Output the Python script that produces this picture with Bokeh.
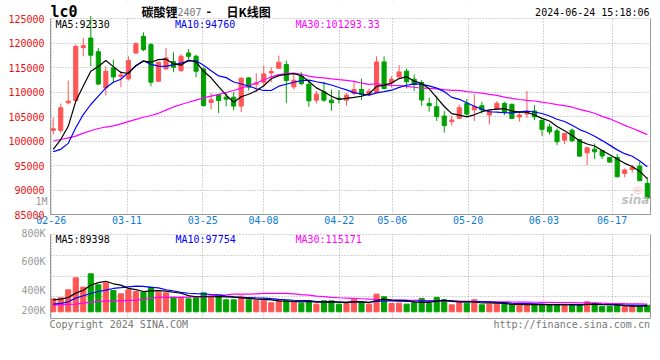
from bokeh.plotting import figure
from bokeh.models import (ColumnDataSource, FixedTicker, Label, Range1d, LinearAxis,
                          BoxAnnotation)
from bokeh.layouts import column
from bokeh.embed import file_html
from bokeh.resources import INLINE

# ---------------- data ----------------
opens = [102169, 102169, 107796, 108270, 119051, 121017, 118224, 110847, 114915, 113220,
         112678, 117966, 121356, 119661, 112203, 114712, 116203, 114373, 117966, 117288,
         114712, 107864, 109423, 108949, 108949, 107118, 112881, 111593, 112000, 113898,
         114847, 115593, 111050, 113250, 111593, 108338, 110034, 108338, 108745, 108338,
         109694, 110508, 109694, 109898, 116135, 111864, 113084, 114254, 112627, 111949,
         107678, 107000, 105101, 103949, 104627, 107678, 106350, 107203, 105305, 106525,
         107678, 107474, 104898, 105500, 106135, 104237, 102881, 102067, 100169, 102203,
         100305, 97593, 98338, 97999, 96644, 96644, 93389, 94203, 94880, 91355]
highs = [104745, 107660, 112339, 119661, 121017, 125500, 118980, 115254, 116610, 114237,
         117288, 120136, 122170, 120000, 116135, 118983, 118102, 117763, 118780, 117627,
         115051, 109762, 109627, 109966, 109966, 113017, 113017, 113830, 115390, 115051,
         117424, 116407, 113762, 114034, 112406, 110237, 112067, 110508, 110373, 109830,
         112271, 112746, 110712, 117288, 117288, 113220, 115458, 114797, 113576, 112424,
         108830, 109237, 106118, 105169, 107474, 108559, 109550, 108017, 106322, 108152,
         108017, 107678, 105983, 110200, 107288, 104373, 103559, 102542, 101661, 102542,
         100373, 98678, 99491, 98135, 96779, 97322, 94406, 95084, 95762, 92576]
lows = [101355, 101694, 107457, 108000, 117288, 115254, 111428, 109288, 111864, 110983,
        112339, 117763, 118305, 111186, 112067, 114576, 114034, 114034, 116746, 113017,
        107000, 106440, 105694, 107050, 106237, 105898, 110305, 109966, 110983, 112000,
        114712, 107728, 110508, 111389, 106982, 107660, 108000, 106169, 107660, 107186,
        109355, 108338, 109152, 109694, 110508, 110915, 112881, 110729, 110186, 107203,
        105983, 104084, 101711, 103135, 104491, 104966, 104084, 105644, 103406, 106322,
        105305, 104500, 103949, 104700, 104237, 101050, 101322, 99152, 99356, 99830,
        96779, 95084, 96304, 96304, 95559, 92576, 92576, 93525, 91898, 87627]
closes = [102508, 106779, 108135, 119322, 119458, 117491, 111632, 114237, 113084, 113491,
          116407, 119864, 118644, 112000, 116068, 116949, 115051, 117288, 117288, 114237,
          107254, 108406, 108270, 108542, 107118, 112813, 110983, 111796, 113695, 114170,
          116068, 112339, 112406, 111700, 108203, 109559, 108338, 107796, 108542, 109355,
          110508, 109491, 110169, 116135, 110712, 112610, 114102, 112085, 111542, 108356,
          107203, 104966, 103135, 104288, 106796, 105500, 107000, 106322, 106118, 107678,
          105847, 104600, 105305, 105900, 104915, 102378, 101864, 99830, 101525, 100034,
          96915, 98610, 97796, 96932, 95694, 92700, 94100, 94600, 91900, 88350]
volumes = [195000, 210000, 330000, 510000, 370000, 570000, 405000, 435000, 320000, 270000,
           330000, 305000, 295000, 370000, 295000, 285000, 220000, 220000, 195000, 210000,
           285000, 220000, 230000, 180000, 180000, 235000, 180000, 170000, 170000, 135000,
           165000, 165000, 150000, 130000, 165000, 115000, 165000, 165000, 115000, 125000,
           190000, 150000, 115000, 265000, 225000, 125000, 130000, 115000, 140000, 200000,
           125000, 215000, 180000, 105000, 140000, 130000, 180000, 105000, 115000, 115000,
           110000, 105000, 110000, 105000, 110000, 105000, 110000, 105000, 107500, 100000,
           95000, 150000, 125000, 80000, 80500, 95000, 80000, 90000, 85000, 97000]

# moving-average values before enough in-chart history exists
ma5_head = [98300, 100300, 103000, 108100]
ma10_head = [97830, 98300, 99520, 102700, 105400, 107450, 109150, 110850, 112000]
ma30_head = [100000, 100300, 100650, 101000, 101600, 102100, 102550, 102850, 103100, 103500,
             103950, 104400, 104850, 105200, 105650, 106300, 106950, 107450, 107900, 108350,
             108800, 109150, 109500, 109900, 110300, 110800, 111300, 111850, 112450]
vma5_head = [180000, 190000, 215000, 280000]
vma10_head = [115000, 125000, 150000, 205000, 240000, 275000, 305000, 325000, 350000]
vma30_head = [105000, 105000, 110000, 115000, 130000, 145000, 155000, 160000, 165000, 165000,
              170000, 175000, 185000, 205000, 215000, 215000, 215000, 215000, 220000, 225000,
              225000, 240000, 250000, 255000, 265000, 265000, 265000, 270000, 275000]

tick_index = [0, 10, 20, 28, 38, 45, 55, 65, 74]
tick_labels = ["02-26", "03-11", "03-25", "04-08", "04-22", "05-06", "05-20", "06-03", "06-17"]
price_ticks = [85000, 90000, 95000, 100000, 105000, 110000, 115000, 120000, 125000]
vol_tick_labels = ["200K", "400K", "600K", "800K"]

# ---------------- helpers ----------------
def moving(vals, k, head):
    out = []
    for i in range(len(vals)):
        if i < len(head):
            out.append(head[i])
        else:
            out.append(sum(vals[i - k + 1:i + 1]) / k)
    return out

RED = "#ff5555"
GREEN = "#00a000"
GRID = "#a8a8a8"
BORDER = "#9a9a9a"
MONO = "DejaVu Sans Mono"
CJK = "Noto Sans CJK SC"

# layout geometry (page pixels -> axis units)
K1 = 5000 / 24.5            # price units per pixel
K2 = 15000                  # volume units per pixel
def price_at(py):
    return 125000 - (py - 18) * K1
def vol_at(py):
    return (311.3 - py) * K2
def x_at(px):
    return (px - 52.7) / 7.52

n = len(closes)
idx = list(range(n))
colors = [RED if c >= o else GREEN for o, c in zip(opens, closes)]
src = ColumnDataSource(dict(
    x=idx, o=opens, h=highs, l=lows, c=closes, v=volumes, col=colors,
    top=[max(o, c) for o, c in zip(opens, closes)],
    bot=[min(o, c) for o, c in zip(opens, closes)],
    ma5=moving(closes, 5, ma5_head), ma10=moving(closes, 10, ma10_head),
    ma30=moving(closes, 30, ma30_head),
    vma5=moving(volumes, 5, vma5_head), vma10=moving(volumes, 10, vma10_head),
    vma30=moving(volumes, 30, vma30_head),
))

# grid positions (Sina's day grid is slightly wider than the candle spacing)
grid_x = [round(i * 7.58 / 7.52 - 2.0 / 7.52, 3) for i in tick_index]

W = 652
LEFT, RIGHT = 50, 2
X0, X1 = x_at(50), x_at(650)

def label(fig, text, px, py, fl, fb, color="#000000", size="10px", font=MONO,
          align="left", style="normal", alpha=1.0):
    fig.add_layout(Label(x=px - fl, y=fb - py, x_units="screen", y_units="screen",
                         text=text, text_color=color, text_font_size=size, text_font=font,
                         text_align=align, text_baseline="middle", text_font_style=style,
                         text_alpha=alpha))

def style_axis(ax, color, standoff, line=None):
    ax.major_label_text_color = color
    ax.major_label_text_font = MONO
    ax.major_label_text_font_size = "10px"
    ax.major_label_standoff = standoff
    ax.axis_line_color = line
    ax.major_tick_line_color = None
    ax.minor_tick_line_color = None
    ax.major_tick_out = 0
    ax.major_tick_in = 0
    ax.minor_tick_out = 0
    ax.minor_tick_in = 0

def border_axis(bounds):
    ax = LinearAxis(ticker=FixedTicker(ticks=[]), bounds=bounds)
    style_axis(ax, BORDER, 0, BORDER)
    return ax

# ---------------- price panel ----------------
p1 = figure(width=W, height=227, output_backend="svg", toolbar_location=None,
            x_range=Range1d(X0, X1), y_range=Range1d(price_at(214), price_at(0)),
            y_axis_location=None,
            min_border_left=LEFT, min_border_right=RIGHT, min_border_top=0,
            min_border_bottom=13)
p1.outline_line_color = None
p1.background_fill_color = "white"
p1.border_fill_color = "white"

# left border (also carries the stray grey "1M" tag), then the red price labels
one_m = round(price_at(200.7))
ax_a = LinearAxis(ticker=FixedTicker(ticks=[one_m]), bounds=(85000, 125000))
ax_a.major_label_overrides = {one_m: "1M"}
style_axis(ax_a, "#999999", 3, BORDER)
p1.add_layout(ax_a, "left")
ax_p = LinearAxis(ticker=FixedTicker(ticks=price_ticks))
ax_p.formatter.use_scientific = False
style_axis(ax_p, "#e81010", -12)
p1.add_layout(ax_p, "left")
p1.add_layout(border_axis((85000, 125000)), "right")

p1.xaxis.ticker = FixedTicker(ticks=grid_x)
p1.xaxis.major_label_overrides = {g: t for g, t in zip(grid_x, tick_labels)}
style_axis(p1.xaxis[0], "#0a7bd6", 1, BORDER)

p1.xgrid.ticker = FixedTicker(ticks=grid_x)
p1.ygrid.ticker = FixedTicker(ticks=price_ticks)
for g in (p1.xgrid, p1.ygrid):
    g.grid_line_color = GRID
    g.grid_line_dash = "1 2"
p1.add_layout(BoxAnnotation(bottom=125000 + 0.7 * K1, fill_color="white", fill_alpha=1,
                            line_alpha=0, level="underlay"))

p1.segment(x0="x", y0="l", x1="x", y1="h", color="col", line_width=1, source=src)
p1.vbar(x="x", top="top", bottom="bot", width=0.55, fill_color="col", line_color="col",
        line_width=1, source=src)
p1.line("x", "ma30", color="#ff00ff", line_width=1.2, source=src)
p1.line("x", "ma10", color="#0000ff", line_width=1.2, source=src)
p1.line("x", "ma5", color="#000000", line_width=1.2, source=src)

FL1, FB1 = 50, 214
label(p1, "lc0", 50, 11, FL1, FB1, size="15px", style="bold")
label(p1, "碳酸锂", 141, 10.5, FL1, FB1, size="12px", font=CJK, style="bold")
label(p1, "2407", 177, 11, FL1, FB1, color="#777777", size="10px")
label(p1, "-", 205, 10.5, FL1, FB1, size="11px", style="bold")
label(p1, "日K线图", 226, 10.5, FL1, FB1, size="12px", font=CJK, style="bold")
label(p1, "2024-06-24 15:18:06", 649, 12.3, FL1, FB1, align="right")
label(p1, "MA5:92330", 55, 24, FL1, FB1)
label(p1, "MA10:94760", 174.5, 24, FL1, FB1, color="#0000ff")
label(p1, "MA30:101293.33", 295, 24, FL1, FB1, color="#ff00ff")
label(p1, "◎", 633, 189, FL1, FB1, color="#ff9090", size="10px", font="DejaVu Sans", alpha=0.7)
label(p1, "sina", 635, 199, FL1, FB1, color="#b8b8b8", size="12px", font="DejaVu Sans",
      style="bold italic", align="center", alpha=0.9)

# ---------------- volume panel ----------------
p2 = figure(width=W, height=113, output_backend="svg", toolbar_location=None,
            x_range=p1.x_range, y_range=Range1d(vol_at(318), vol_at(227)),
            y_axis_location=None,
            min_border_left=LEFT, min_border_right=RIGHT, min_border_top=0,
            min_border_bottom=22)
p2.outline_line_color = None
p2.background_fill_color = "white"
p2.border_fill_color = "white"

vol_top = vol_at(234)
p2.add_layout(border_axis((vol_at(318), vol_top)), "left")
vol_label_pos = [round(vol_at(py)) for py in (310, 290, 261, 230.5)]
ax_v = LinearAxis(ticker=FixedTicker(ticks=vol_label_pos))
ax_v.major_label_overrides = {v: t for v, t in zip(vol_label_pos, vol_tick_labels)}
style_axis(ax_v, "#999999", 5)
p2.add_layout(ax_v, "left")
p2.add_layout(border_axis((vol_at(318), vol_top)), "right")

foot_pos = [round(x_at(118.3), 3), round(x_at(571.2), 3)]
p2.xaxis.ticker = FixedTicker(ticks=foot_pos)
p2.xaxis.major_label_overrides = {foot_pos[0]: "Copyright 2024 SINA.COM",
                                  foot_pos[1]: "http://finance.sina.com.cn"}
style_axis(p2.xaxis[0], "#777777", 0, BORDER)

p2.xgrid.ticker = FixedTicker(ticks=grid_x)
p2.ygrid.ticker = FixedTicker(ticks=[round(vol_at(py)) for py in (296, 276, 255)] + [vol_top])
for g in (p2.xgrid, p2.ygrid):
    g.grid_line_color = GRID
    g.grid_line_dash = "1 2"
p2.add_layout(BoxAnnotation(bottom=vol_top + 0.7 * K2, fill_color="white", fill_alpha=1,
                            line_alpha=0, level="underlay"))

p2.vbar(x="x", top="v", bottom=0, width=0.68, fill_color="col", line_color="col",
        line_width=1, source=src)
p2.line("x", "vma30", color="#ff00ff", line_width=1.2, source=src)
p2.line("x", "vma10", color="#0000ff", line_width=1.2, source=src)
p2.line("x", "vma5", color="#000000", line_width=1.2, source=src)

FL2, FB2 = 50, 318
label(p2, "MA5:89398", 55, 238.7, FL2, FB2)
label(p2, "MA10:97754", 175, 238.7, FL2, FB2, color="#0000ff")
label(p2, "MA30:115171", 295, 238.7, FL2, FB2, color="#ff00ff")

layout = column(p1, p2, spacing=0)
open("out.html", "w").write(file_html(layout, INLINE))
